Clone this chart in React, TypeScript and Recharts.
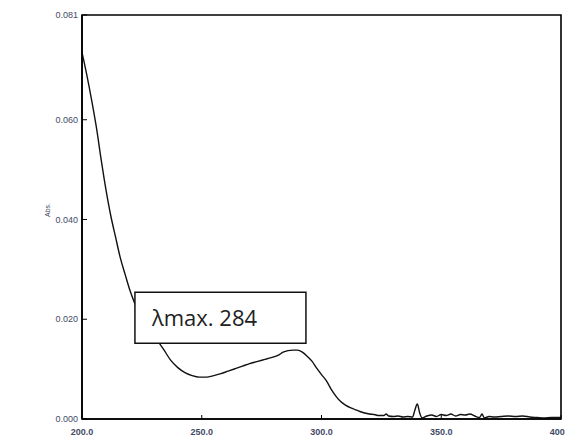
import { LineChart, Line, XAxis, YAxis, ReferenceArea } from "recharts"

// wavelength (nm) and absorbance
const wavelengths = [
  200, 201, 202, 204, 206, 208, 210, 212, 214, 216, 218, 220, 222, 225, 228, 231, 234, 237, 240, 243,
  246, 249, 252, 255, 258, 261, 264, 267, 270, 273, 276, 279, 282, 284, 286, 288, 290, 292, 294, 296,
  298, 300, 302, 304, 306, 308, 310, 312, 314, 316, 318, 320, 322, 324, 326, 327, 328, 330, 332, 334,
  336, 338, 339, 340, 341, 342, 344, 346, 348, 350, 352, 354, 356, 358, 360, 362, 364, 366, 367, 368,
  370, 372, 375, 378, 381, 384, 387, 390, 393, 396, 400,
]
const absorbance = [
  0.0735, 0.0713, 0.069, 0.064, 0.0585, 0.052, 0.046, 0.0408, 0.0365, 0.0323, 0.029, 0.0258, 0.0232,
  0.02, 0.0178, 0.016, 0.014, 0.0118, 0.0103, 0.0093, 0.0087, 0.0084, 0.0084, 0.0087, 0.0091, 0.0096,
  0.0101, 0.0106, 0.0111, 0.0115, 0.0119, 0.0123, 0.0128, 0.0134, 0.0137, 0.0138, 0.0138, 0.0134,
  0.0126, 0.0116, 0.0102, 0.0089, 0.0077, 0.006, 0.0046, 0.0035, 0.0028, 0.0023, 0.0019, 0.0015,
  0.0012, 0.001, 0.0009, 0.0007, 0.0007, 0.001, 0.0006, 0.0005, 0.0006, 0.0004, 0.0005, 0.0004,
  0.0018, 0.003, 0.0012, 0.0002, 0.0006, 0.0008, 0.0005, 0.0009, 0.0007, 0.001, 0.0006, 0.0009,
  0.0008, 0.001, 0.0006, 0.0003, 0.001, 0.0002, 0.0005, 0.0004, 0.0005, 0.0006, 0.0005, 0.0006,
  0.0004, 0.0003, 0.0002, 0.0003, 0.0003,
]

const xTicks = [200, 250, 300, 350, 400]
const yTicks = [0, 0.02, 0.04, 0.06, 0.081]

const data = wavelengths.map((wl, i) => ({ wl, abs: absorbance[i] }))

const labelColor = "#3f4a66"

export default function App() {
  return (
    <div style={{ position: "absolute", left: 0, top: 0, width: 565, height: 438, background: "#fff" }}>
      <LineChart width={565} height={438} data={data} margin={{ top: 15, right: 4, bottom: 0, left: 22 }}>
        <XAxis
          dataKey="wl"
          type="number"
          domain={[200, 400]}
          ticks={xTicks}
          tickFormatter={(v: number) => v.toFixed(1)}
          height={19}
          tickSize={-4}
          tickMargin={14}
          interval={0}
          axisLine={{ stroke: "#000", strokeWidth: 1.6 }}
          tickLine={{ stroke: "#000" }}
          tick={{ fontSize: 9, fill: labelColor, fontFamily: "Liberation Sans", fontWeight: "bold" }}
        />
        <YAxis
          type="number"
          domain={[0, 0.081]}
          ticks={yTicks}
          tickFormatter={(v: number) => v.toFixed(3)}
          width={60}
          tickSize={-5}
          tickMargin={9}
          interval={0}
          axisLine={{ stroke: "#000", strokeWidth: 1.6 }}
          tickLine={{ stroke: "#000" }}
          tick={{ fontSize: 9, fill: labelColor, fontFamily: "Liberation Sans" }}
          label={{
            value: "Abs.",
            angle: -90,
            position: "insideLeft",
            offset: 26,
            fontSize: 7,
            fill: labelColor,
            fontFamily: "Liberation Sans",
          }}
        />
        {/* plot frame */}
        <ReferenceArea
          x1={200}
          x2={400}
          y1={0}
          y2={0.081}
          fill="none"
          fillOpacity={0}
          stroke="#000"
          strokeWidth={1.6}
          ifOverflow="visible"
        />
        <Line
          dataKey="abs"
          type="monotone"
          stroke="#111"
          strokeWidth={1.4}
          dot={false}
          isAnimationActive={false}
        />
        <ReferenceArea
          x1={222.1}
          x2={293.5}
          y1={0.0152}
          y2={0.0254}
          fill="#fff"
          fillOpacity={1}
          stroke="#111"
          strokeWidth={1.5}
          ifOverflow="visible"
          zIndex={1000}
          label={{
            value: "λmax. 284",
            position: "insideLeft",
            offset: 17,
            fontSize: 22,
            fill: "#222",
            fontFamily: "Open Sans",
            zIndex: 3000,
          }}
        />
      </LineChart>
    </div>
  )
}
